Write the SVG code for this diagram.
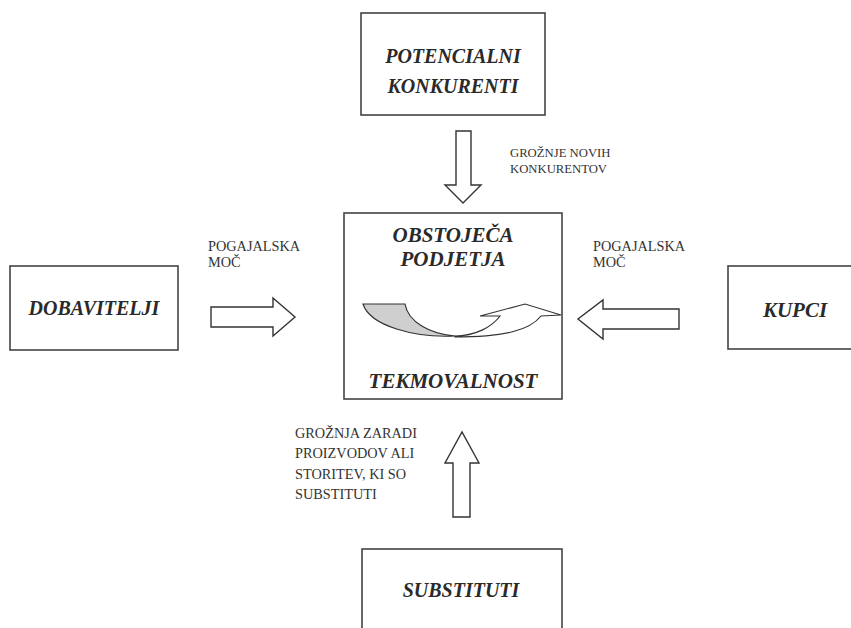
<svg xmlns="http://www.w3.org/2000/svg" width="851" height="628" viewBox="0 0 851 628">
<style>
.box{fill:#fff;stroke:#444;stroke-width:1.6}
.arr{fill:#fff;stroke:#333;stroke-width:1.4;stroke-linejoin:miter}
.lbl{font-weight:bold;font-style:italic;fill:#2a2a2a;text-anchor:middle}
.note{fill:#333}
</style>
<rect width="851" height="628" fill="#fff"/>
<g font-family="'Liberation Serif', 'DejaVu Serif', serif">
<g id="potencialni">
<rect class="box" x="361" y="13" width="184" height="102"/>
<text class="lbl" x="453" y="63" font-size="20">POTENCIALNI</text>
<text class="lbl" x="453" y="93" font-size="20">KONKURENTI</text>
</g>
<g id="obstojeca">
<rect class="box" x="344" y="213" width="218" height="186"/>
<text class="lbl" x="453" y="242" font-size="21" fill="#3c3c3c">OBSTOJEČA</text>
<text class="lbl" x="453" y="266" font-size="21" fill="#3c3c3c">PODJETJA</text>
<path d="M363,304 L405,304 C408,322 430,334 455,336 C415,338 370,326 363,304 Z" fill="#cfcfcf" stroke="#333" stroke-width="1.2"/>
<path d="M455,336 C475,336 492,327 500,316 L480,316 L525,304 L561,315 L541,316 C530,330 505,337 455,337 Z" fill="#fff" stroke="#333" stroke-width="1.2"/>
<text class="lbl" x="453" y="388" font-size="21" fill="#111">TEKMOVALNOST</text>
</g>
<g id="dobavitelji">
<rect class="box" x="10" y="266" width="168" height="84"/>
<text class="lbl" x="94" y="315" font-size="20">DOBAVITELJI</text>
</g>
<g id="kupci">
<rect class="box" x="728" y="266" width="140" height="83"/>
<text class="lbl" x="795" y="317" font-size="21">KUPCI</text>
</g>
<g id="substituti">
<rect class="box" x="362" y="549" width="200" height="100"/>
<text class="lbl" x="461" y="597" font-size="20">SUBSTITUTI</text>
</g>
<g id="connectors">
<polygon class="arr" points="456,131 471,131 471,185 481,185 463,203 445,185 456,185"/>
<polygon class="arr" points="211,307 273,307 273,298 295,317 273,336 273,327 211,327"/>
<polygon class="arr" points="679,309 603,309 603,300 578,319 603,339 603,329 679,329"/>
<polygon class="arr" points="453,517 470,517 470,463 479,463 462,432 445,463 453,463"/>
</g>
<g id="labels">
<text class="note" x="510" y="157" font-size="12.7">GROŽNJE NOVIH</text>
<text class="note" x="510" y="173" font-size="12.7">KONKURENTOV</text>
<text class="note" x="208" y="251" font-size="14.3">POGAJALSKA</text>
<text class="note" x="208" y="267" font-size="14.3">MOČ</text>
<text class="note" x="593" y="251" font-size="14.3">POGAJALSKA</text>
<text class="note" x="593" y="267" font-size="14.3">MOČ</text>
<text class="note" x="295" y="438" font-size="14.3">GROŽNJA ZARADI</text>
<text class="note" x="295" y="458" font-size="14.3">PROIZVODOV ALI</text>
<text class="note" x="295" y="479" font-size="14.3">STORITEV, KI SO</text>
<text class="note" x="295" y="499" font-size="14.3">SUBSTITUTI</text>
</g>
</g>
</svg>
